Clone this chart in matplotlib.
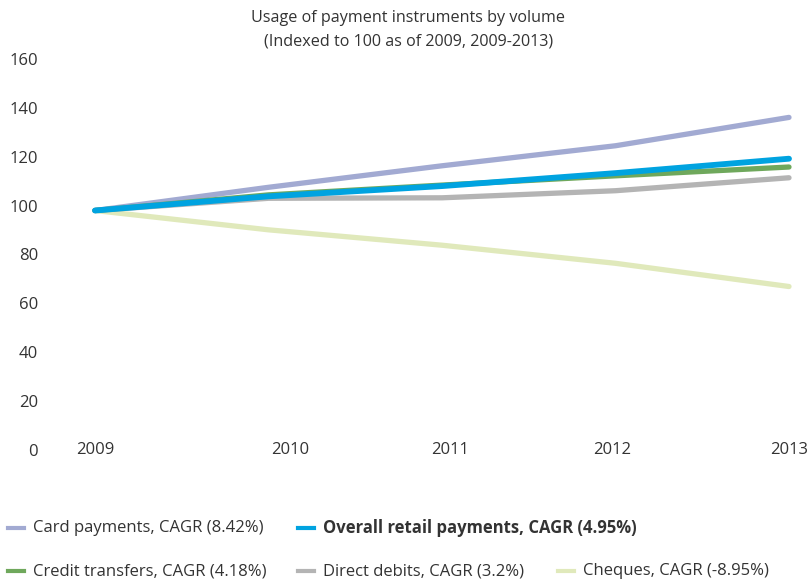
import matplotlib.pyplot as plt
from matplotlib.lines import Line2D
from matplotlib.transforms import ScaledTranslation

plt.rcParams['font.family'] = ['Open Sans', 'DejaVu Sans']

# index values per year
years = [2009, 2010, 2011, 2012, 2013]
card = [98, 107.5, 116.3, 124.5, 136.1]
overall = [98, 103.8, 108.0, 113.3, 119.2]
credit = [98, 104.4, 108.4, 112.2, 115.8]
direct = [98, 103.0, 103.2, 106.1, 111.4]
cheques = [98, 90.1, 83.8, 76.4, 66.9]

labels = ['Card payments, CAGR (8.42%)',
          'Overall retail payments, CAGR (4.95%)',
          'Credit transfers, CAGR (4.18%)',
          'Direct debits, CAGR (3.2%)',
          'Cheques, CAGR (-8.95%)']
colors = ['#a2aad2', '#00a3e0', '#6fa85c', '#b4b4b4', '#e0e9bb']
yticks = [0, 20, 40, 60, 80, 100, 120, 140, 160]

txt = '#333333'
fig = plt.figure(figsize=(8.1, 5.83), dpi=100)
ax = fig.add_axes([95/810, 133/583, 694/810, 391/583])

series = [card, overall, credit, direct, cheques]
widths = [3.8, 4.2, 3.8, 3.8, 3.8]
zorders = [3, 6, 5, 4, 2]
for vals, c, lw, z in zip(series, colors, widths, zorders):
    ax.plot(years, vals, color=c, lw=lw, solid_capstyle='round', zorder=z, clip_on=False)

ax.set_xlim(2009, 2013)
ax.set_ylim(0, 160)
ax.set_xticks(years)
ax.set_yticks(yticks)
for s in ax.spines.values():
    s.set_visible(False)
ax.tick_params(axis='y', length=0, pad=41, labelsize=12, labelcolor=txt)
ax.tick_params(axis='x', length=0, pad=-6, labelsize=12, labelcolor=txt)

# year labels sit a little off their ticks
shifts = [0, 22, 8, -3, 0]
for lab, dx in zip(ax.get_xticklabels(), shifts):
    lab.set_transform(lab.get_transform() + ScaledTranslation(dx / 100, 0, fig.dpi_scale_trans))

fig.text(0.504, 1 - 10/583, 'Usage of payment instruments by volume\n(Indexed to 100 as of 2009, 2009-2013)',
         ha='center', va='top', fontsize=11.6, color=txt, linespacing=1.6)

# legend laid out in two rows
slots = [(8, 528), (298, 528), (8, 571), (298, 571), (558, 571)]
for (x, y), lab, c in zip(slots, labels, colors):
    fy = 1 - y / 583
    fig.add_artist(Line2D([x/810, (x + 16)/810], [fy, fy], color=c, lw=3,
                          transform=fig.transFigure))
    fig.text((x + 25)/810, fy, lab, va='center', ha='left', fontsize=12, color=txt,
             fontweight='bold' if lab.startswith('Overall') else 'normal')

fig.savefig('out.png', dpi=100)
